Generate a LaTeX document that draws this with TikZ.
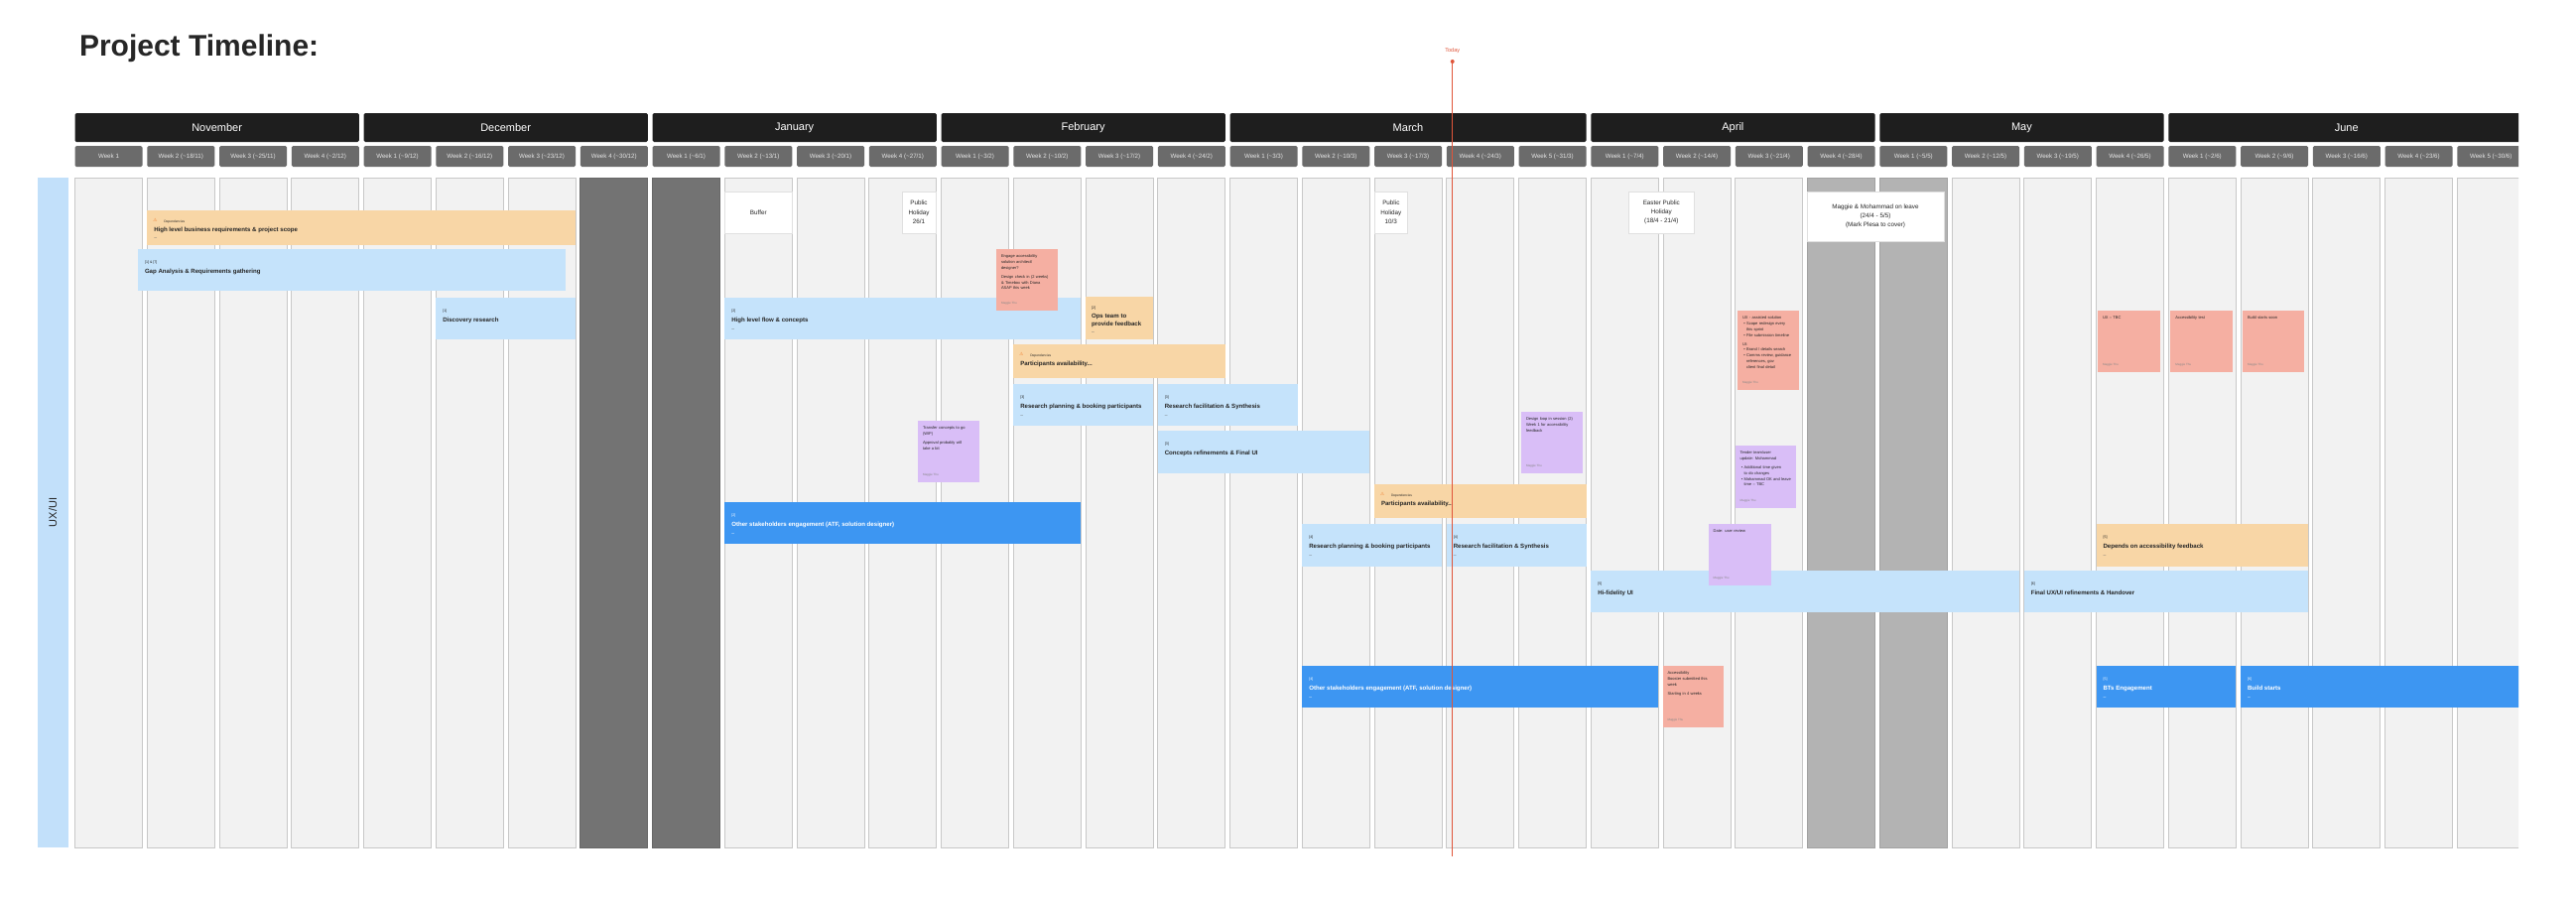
\documentclass[tikz,border=0pt]{standalone}
\usepackage{fontspec}
\setmainfont{Liberation Sans}
\newfontfamily\symfont{DejaVu Sans}
\definecolor{colfill}{HTML}{F2F2F2}
\definecolor{colline}{HTML}{C8C8C8}
\definecolor{darkcol}{HTML}{737373}
\definecolor{midcol}{HTML}{B3B3B3}
\definecolor{monthblack}{HTML}{1E1E1E}
\definecolor{weekgray}{HTML}{6B6B6B}
\definecolor{lanefill}{HTML}{C2E0FA}
\definecolor{lightblue}{HTML}{C5E3FB}
\definecolor{orangefill}{HTML}{F8D6A6}
\definecolor{darkblue}{HTML}{3D96F2}
\definecolor{salmon}{HTML}{F5AFA2}
\definecolor{purplefill}{HTML}{D9BEF7}
\definecolor{todayred}{HTML}{E0553A}
\definecolor{warnorange}{HTML}{F07A2A}
\definecolor{txtdark}{HTML}{262626}
\tikzset{
  every node/.style={inner sep=0pt, outer sep=0pt},
  colbox/.style={draw=colline, fill=colfill, line width=0.7pt, minimum width=68pt, minimum height=675pt, anchor=north west},
  wkbox/.style={fill=weekgray, rounded corners=1.5pt, minimum width=68pt, minimum height=21pt, anchor=north west, text=white!90!black, font=\fontsize{6.2}{7}\selectfont},
  monthbox/.style={fill=monthblack, rounded corners=1.5pt, minimum height=29pt, anchor=north west, text=white, font=\fontsize{11}{13}\selectfont},
  wbox/.style={fill=white, draw=black!12, line width=0.6pt, anchor=north west, align=center, text=txtdark, font=\fontsize{6.3}{9.3}\selectfont},
  lbbox/.style={fill=lightblue, anchor=north west},
  orbox/.style={fill=orangefill, anchor=north west},
  dbbox/.style={fill=darkblue, anchor=north west},
  stickybox/.style={anchor=north west},
  smalllbl/.style={anchor=base west, font=\fontsize{3.6}{4}\selectfont, text=txtdark},
  titlelbl/.style={anchor=base west, font=\fontsize{6.1}{8}\selectfont\bfseries, text=txtdark},
  dashlbl/.style={anchor=base west, font=\fontsize{5}{6}\selectfont, text=txtdark!70},
  stext/.style={anchor=north west, align=left, text width=52pt, font=\fontsize{4}{5.8}\selectfont, text=txtdark},
  sauthor/.style={anchor=base west, font=\fontsize{3}{4}\selectfont, text=txtdark!55},
}
% bar: name, style, x1, y1, x2, y2, small label, title, dash
\newcommand\mkbar[9]{%
  \node[#2, minimum width={#5pt-#3pt}, minimum height={#6pt-#4pt}] (#1) at (#3,#4) {};
  \node[smalllbl] (#1s) at ([xshift=7pt,yshift=-14pt]#1.north west) {#7};
  \node[titlelbl] (#1t) at ([xshift=7pt,yshift=-24pt]#1.north west) {#8};
  \node[dashlbl] (#1d) at ([xshift=7pt,yshift=-33pt]#1.north west) {#9};
}
% dependency bar: name, x1, y1, x2, y2, title, dash
\newcommand\mkdep[7]{%
  \node[orbox, minimum width={#4pt-#2pt}, minimum height={#5pt-#3pt}] (#1) at (#2,#3) {};
  \node[anchor=base west, font=\symfont\fontsize{4.5}{5}\selectfont, text=warnorange] (#1i) at ([xshift=6pt,yshift=-11pt]#1.north west) {⚠};
  \node[anchor=base west, font=\fontsize{3.3}{4}\selectfont, text=txtdark] (#1s) at ([xshift=17pt,yshift=-12pt]#1.north west) {Dependencies};
  \node[titlelbl] (#1t) at ([xshift=7pt,yshift=-21pt]#1.north west) {#6};
  \node[dashlbl] (#1d) at ([xshift=7pt,yshift=-29pt]#1.north west) {#7};
}
% sticky: name, colour, x1, y1, x2, y2, text
\newcommand\mksticky[7]{%
  \node[stickybox, fill=#2, minimum width={#5pt-#3pt}, minimum height={#6pt-#4pt}] (#1) at (#3,#4) {};
  \node[stext] (#1x) at ([xshift=5pt,yshift=-6pt]#1.north west) {#7};
  \node[sauthor] (#1a) at ([xshift=5pt,yshift=7pt]#1.south west) {Maggie Thu};
}
\begin{document}
\begin{tikzpicture}[x=1pt,y=-1pt]
\useasboundingbox (0,0) rectangle (2596,910);
\fill[white] (0,0) rectangle (2596,910);

\node[anchor=base west, font=\fontsize{30}{36}\selectfont\bfseries, text=txtdark] (title) at (80,56.5) {Project Timeline:};

\begin{scope}
\clip (0,0) rectangle (2538,910);

% month bars
\node[monthbox, minimum width=286.25pt] (mnov) at (75.5,114) {November};
\node[monthbox, minimum width=286.25pt] (mdec) at (366.5,114) {December};
\node[monthbox, minimum width=286.25pt] (mjan) at (657.5,114) {January};
\node[monthbox, minimum width=286.25pt] (mfeb) at (948.5,114) {February};
\node[monthbox, minimum width=359pt] (mmar) at (1239.5,114) {March};
\node[monthbox, minimum width=286.25pt] (mapr) at (1603.25,114) {April};
\node[monthbox, minimum width=286.25pt] (mmay) at (1894.25,114) {May};
\node[monthbox, minimum width=359pt] (mjun) at (2185.25,114) {June};

% week bars
\foreach \i/\t in {0/{Week 1},
 1/{Week 2 (\textasciitilde18/11)}, 2/{Week 3 (\textasciitilde25/11)}, 3/{Week 4 (\textasciitilde2/12)},
 4/{Week 1 (\textasciitilde9/12)}, 5/{Week 2 (\textasciitilde16/12)}, 6/{Week 3 (\textasciitilde23/12)}, 7/{Week 4 (\textasciitilde30/12)},
 8/{Week 1 (\textasciitilde6/1)}, 9/{Week 2 (\textasciitilde13/1)}, 10/{Week 3 (\textasciitilde20/1)}, 11/{Week 4 (\textasciitilde27/1)},
 12/{Week 1 (\textasciitilde3/2)}, 13/{Week 2 (\textasciitilde10/2)}, 14/{Week 3 (\textasciitilde17/2)}, 15/{Week 4 (\textasciitilde24/2)},
 16/{Week 1 (\textasciitilde3/3)}, 17/{Week 2 (\textasciitilde10/3)}, 18/{Week 3 (\textasciitilde17/3)}, 19/{Week 4 (\textasciitilde24/3)}, 20/{Week 5 (\textasciitilde31/3)},
 21/{Week 1 (\textasciitilde7/4)}, 22/{Week 2 (\textasciitilde14/4)}, 23/{Week 3 (\textasciitilde21/4)}, 24/{Week 4 (\textasciitilde28/4)},
 25/{Week 1 (\textasciitilde5/5)}, 26/{Week 2 (\textasciitilde12/5)}, 27/{Week 3 (\textasciitilde19/5)}, 28/{Week 4 (\textasciitilde26/5)},
 29/{Week 1 (\textasciitilde2/6)}, 30/{Week 2 (\textasciitilde9/6)}, 31/{Week 3 (\textasciitilde16/6)}, 32/{Week 4 (\textasciitilde23/6)}, 33/{Week 5 (\textasciitilde30/6)}}{
  \pgfmathsetmacro\cx{75.5+72.75*\i}
  \node[wkbox] (wk\i) at (\cx,147) {\t};
}

% columns
\foreach \i in {0,...,33}{
  \pgfmathsetmacro\cx{75.5+72.75*\i}
  \node[colbox] (col\i) at (\cx,179) {};
}
\node[colbox, fill=darkcol, draw=darkcol!90!black] (dcol7) at (584.75,179) {};
\node[colbox, fill=darkcol, draw=darkcol!90!black] (dcol8) at (657.5,179) {};
\node[colbox, fill=midcol, draw=midcol!90!black] (gcol24) at (1821.5,179) {};
\node[colbox, fill=midcol, draw=midcol!90!black] (gcol25) at (1894.25,179) {};

% lane
\node[fill=lanefill, anchor=north west, minimum width=31.5pt, minimum height=675pt] (lane) at (37.5,179) {};
\node[rotate=90, font=\fontsize{11}{13}\selectfont, text=txtdark] (lanelbl) at (lane.center) {UX/UI};

% white boxes
\node[wbox, minimum width=68pt, minimum height=42pt] (buffer) at (730.25,193) {Buffer};
\node[wbox, minimum width=34pt, minimum height=42pt] (ph1) at (909,193) {Public\\Holiday\\26/1};
\node[wbox, minimum width=32.5pt, minimum height=42pt] (ph2) at (1385.6,193) {Public\\Holiday\\10/3};
\node[wbox, minimum width=66.6pt, minimum height=42pt] (ph3) at (1641,193) {Easter Public\\Holiday\\(18/4 - 21/4)};
\node[wbox, minimum width=138pt, minimum height=50pt] (leave) at (1821,193) {Maggie \& Mohammad on leave\\(24/4 - 5/5)\\(Mark Plesa to cover)};

% bars
\mkdep{hlbr}{148.25}{212}{580}{247}{High level business requirements \& project scope}{–}
\mkbar{gap}{lbbox}{139}{251}{570}{293}{[1] \& [7]}{Gap Analysis \& Requirements gathering}{}
\mkbar{disc}{lbbox}{439.25}{300}{580}{342}{[1]}{Discovery research}{}
\mkbar{hlf}{lbbox}{730.25}{300}{1089.25}{342}{[2]}{High level flow \& concepts}{–}
\node[orbox, minimum width=68pt, minimum height=43pt] (ops) at (1094,299) {};
\node[smalllbl] (opss) at ([xshift=6pt,yshift=-12pt]ops.north west) {[2]};
\node[titlelbl] (opst) at ([xshift=6pt,yshift=-21pt]ops.north west) {Ops team to};
\node[titlelbl] (opst2) at ([xshift=6pt,yshift=-29pt]ops.north west) {provide feedback};
\node[dashlbl] (opsd) at ([xshift=6pt,yshift=-37pt]ops.north west) {–};
\mkdep{pa1}{1021.25}{347}{1234.75}{381}{Participants availability...}{}
\mkbar{rp1}{lbbox}{1021.25}{387}{1162}{429}{[3]}{Research planning \& booking participants}{–}
\mkbar{rf1}{lbbox}{1166.75}{387}{1307.5}{429}{[3]}{Research facilitation \& Synthesis}{–}
\mkbar{cr}{lbbox}{1166.75}{434}{1380.25}{477}{[3]}{Concepts refinements \& Final UI}{}
\mkdep{pa2}{1385}{488}{1598.5}{522}{Participants availability...}{}
\mkbar{rp2}{lbbox}{1312.25}{528}{1453}{571}{[4]}{Research planning \& booking participants}{–}
\mkbar{rf2}{lbbox}{1457.75}{528}{1598.5}{571}{[4]}{Research facilitation \& Synthesis}{–}
\mkbar{daf}{orbox}{2112.5}{528}{2326}{571}{[5]}{Depends on accessibility feedback}{–}
\mkbar{hf}{lbbox}{1603.25}{575}{2035}{617}{[5]}{Hi-fidelity UI}{}
\mkbar{fux}{lbbox}{2039.75}{575}{2326}{617}{[6]}{Final UX/UI refinements \& Handover}{}
\begin{scope}[smalllbl/.append style={text=white}, titlelbl/.append style={text=white}, dashlbl/.append style={text=white}]
\mkbar{ose1}{dbbox}{730.25}{506}{1089.25}{548}{[2]}{Other stakeholders engagement (ATF, solution designer)}{–}
\mkbar{ose2}{dbbox}{1312.25}{671}{1671.25}{713}{[4]}{Other stakeholders engagement (ATF, solution designer)}{–}
\mkbar{bts}{dbbox}{2112.5}{671}{2253.25}{713}{[5]}{BTs Engagement}{–}
\mkbar{build}{dbbox}{2258}{671}{2600}{713}{[6]}{Build starts}{–}
\end{scope}

% sticky notes
\mksticky{s1}{salmon}{1004}{251}{1066}{313}{Engage accessibility\\solution architect/\\designer?\\[3pt]Design check in (2 weeks)\\\& Timebox with Diana\\ASAP this week}
\mksticky{s2}{purplefill}{925}{424}{986.6}{486}{Transfer concepts to go\\(WIP)\\[3pt]Approval probably will\\take a bit}
\mksticky{s3}{purplefill}{1533}{415}{1594.5}{477}{Design loop in session (2)\\Week 1 for accessibility\\feedback}
\mksticky{s4}{salmon}{1751}{313}{1813}{393}{UX - assisted solution\\\ • Scope redesign every\\\ \ \ this sprint\\\ • File submission timeline\\[3pt]UI:\\\ • Brand / details search\\\ • Comms review, guidance\\\ \ \ references, gov\\\ \ \ client final detail}
\mksticky{s5}{purplefill}{1748.6}{449}{1809.7}{512}{Tender team/user\\update: Mohammad\\[3pt]\ • Additional time given\\\ \ \ to do changes\\\ • Mohammad OK and leave\\\ \ \ time -- TBC}
\mksticky{s6}{purplefill}{1721.7}{528}{1784.6}{590}{Date: user review}
\mksticky{s7}{salmon}{2114}{313}{2177}{375}{UX -- TBC}
\mksticky{s8}{salmon}{2187.4}{313}{2250}{375}{Accessibility test}
\mksticky{s9}{salmon}{2260}{313}{2321.7}{375}{Build starts soon}
\mksticky{s10}{salmon}{1675.5}{671}{1737}{733}{Accessibility\\Booster submitted this\\week\\[3pt]Starting in 4 weeks}
\end{scope}

% today marker
\node[text=todayred, font=\fontsize{5.5}{6}\selectfont] (todaylbl) at (1463.7,51.5) {Today};
\node[circle, fill=todayred, minimum size=4pt] (todaydot) at (1463.7,62) {};
\coordinate (todayend) at (1463.7,863);
\draw[todayred, line width=1pt] (todaydot.center) -- (todayend);
\end{tikzpicture}
\end{document}
